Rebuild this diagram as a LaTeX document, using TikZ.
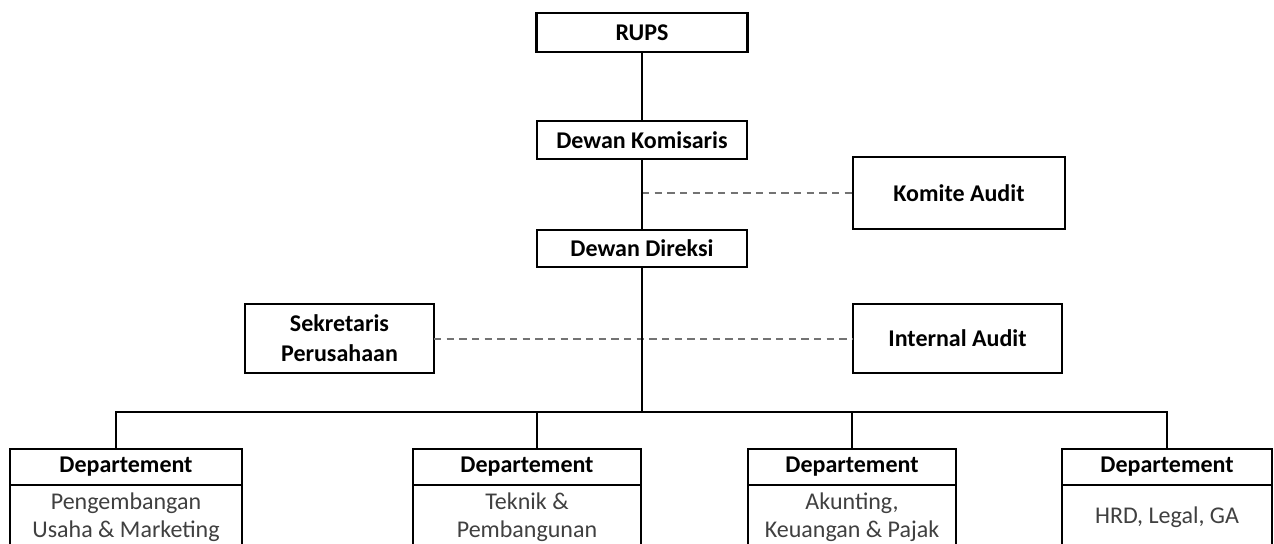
\documentclass[tikz,border=0pt]{standalone}
\usepackage{fontspec}
\setmainfont{Carlito}
\begin{document}
\begin{tikzpicture}[x=0.75pt,y=-0.75pt,
  conn/.style={draw=black, line width=1.9pt},
  dashline/.style={draw=black!55, line width=1.5pt, dash pattern=on 5.5pt off 4pt},
  box/.style={draw=black, line width=1.9pt, fill=white, align=center, inner sep=0pt, outer sep=0pt,
    font=\bfseries\fontsize{18}{22.5}\selectfont},
  body/.style={draw=black, line width=1.9pt, fill=white, align=center, inner sep=0pt, outer sep=0pt,
    text=black!75, font=\fontsize{18}{21}\selectfont},
]
\clip (0,0) rectangle (1274,543);
\fill[white] (0,0) rectangle (1274,543);

% top column
\node[box, minimum width=158.25pt, minimum height=29.25pt] (rups) at (642,32.5) {RUPS};
\node[box, minimum width=157.5pt, minimum height=28.5pt] (dk) at (642,140) {Dewan Komisaris};
\node[box, minimum width=157.5pt, minimum height=27.75pt] (dd) at (642,248.5) {Dewan Direksi};
\node[box, minimum width=159pt, minimum height=54pt] (ka) at (959,193) {Komite Audit};
\node[box, minimum width=156.75pt, minimum height=51.75pt] (ia) at (957.5,338.5) {Internal Audit};
\node[box, minimum width=141.75pt, minimum height=51.75pt] (sp) at (339.5,338.5) {Sekretaris\\Perusahaan};

% departments
\node[box, minimum width=174pt, minimum height=27pt] (d1h) at (126,467) {Departement};
\node[body, minimum width=174pt, minimum height=48pt, anchor=north] (d1b) at (d1h.south) {Pengembangan\\Usaha \& Marketing};
\node[box, minimum width=171pt, minimum height=27pt] (d2h) at (527,467) {Departement};
\node[body, minimum width=171pt, minimum height=48pt, anchor=north] (d2b) at (d2h.south) {Teknik \&\\Pembangunan};
\node[box, minimum width=156pt, minimum height=27pt] (d3h) at (852,467) {Departement};
\node[body, minimum width=156pt, minimum height=48pt, anchor=north] (d3b) at (d3h.south) {Akunting,\\Keuangan \& Pajak};
\node[box, minimum width=157.5pt, minimum height=27pt] (d4h) at (1167,467) {Departement};
\node[body, minimum width=157.5pt, minimum height=48pt, anchor=north] (d4b) at (d4h.south) {HRD, Legal, GA};

% connectors
\coordinate (kj) at (642,193);
\coordinate (bus) at (642,412);
\coordinate (b1) at (116,412);
\coordinate (b2) at (537,412);
\coordinate (b3) at (852,412);
\coordinate (b4) at (1167,412);

\draw[dashline] (kj) -- (ka.west);
\draw[dashline] (sp.east) -- (ia.west);

\draw[conn] (rups.south) -- (dk.north);
\draw[conn] (dk.south) -- (dd.north);
\draw[conn] (dd.south) -- (bus);
\draw[conn, line cap=rect] (b1) -- (b4);
\draw[conn] (b1) -- (b1 |- d1h.north);
\draw[conn] (b2) -- (b2 |- d2h.north);
\draw[conn] (b3) -- (b3 |- d3h.north);
\draw[conn] (b4) -- (b4 |- d4h.north);
\end{tikzpicture}
\end{document}
